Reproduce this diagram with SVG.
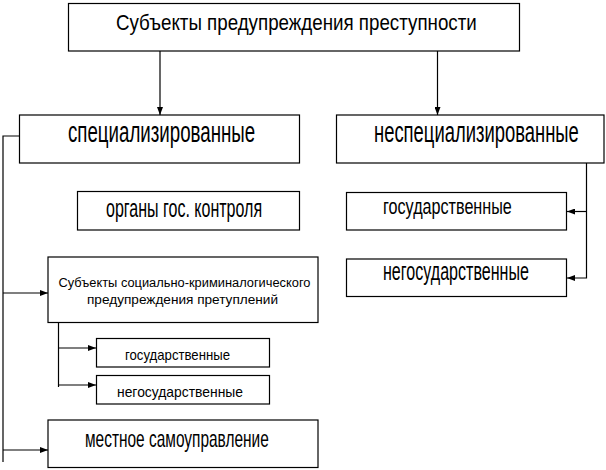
<svg xmlns="http://www.w3.org/2000/svg" width="606" height="470" viewBox="0 0 606 470">
<defs>
<style>
.box{fill:#fff;stroke:#000;stroke-width:1.2}
.ln{fill:none;stroke:#000;stroke-width:1.2}
text{font-family:"Liberation Sans",Arial,sans-serif;fill:#000}
</style>
<marker id="ah" viewBox="0 0 8 6" refX="8" refY="3" markerWidth="8" markerHeight="6" markerUnits="userSpaceOnUse" orient="auto">
<path d="M0,0 L8,3 L0,6 Z" fill="#000"/>
</marker>
</defs>
<rect width="606" height="470" fill="#fff"/>
<g id="connectors">
<line class="ln" x1="160" y1="51" x2="160" y2="115" marker-end="url(#ah)"/>
<line class="ln" x1="437.5" y1="51" x2="437.5" y2="115" marker-end="url(#ah)"/>
<polyline class="ln" points="19,136 3,136 3,462"/>
<line class="ln" x1="3" y1="293" x2="48" y2="293" marker-end="url(#ah)"/>
<line class="ln" x1="3" y1="450" x2="48" y2="450" marker-end="url(#ah)"/>
<line class="ln" x1="58.5" y1="322" x2="58.5" y2="387"/>
<line class="ln" x1="58.5" y1="348" x2="96" y2="348" marker-end="url(#ah)"/>
<line class="ln" x1="58.5" y1="385" x2="96" y2="385" marker-end="url(#ah)"/>
<polyline class="ln" points="586.5,163 586.5,278 567,278" marker-end="url(#ah)"/>
<line class="ln" x1="586.5" y1="211.5" x2="567" y2="211.5" marker-end="url(#ah)"/>
</g>
<g id="n-root">
<rect class="box" x="68.5" y="3.5" width="451" height="47.5"/>
<text transform="translate(116,29.5) scale(0.88,1)" font-size="22" textLength="410" lengthAdjust="spacingAndGlyphs">Субъекты предупреждения преступности</text>
</g>
<g id="n-spec">
<rect class="box" x="19.5" y="115" width="280" height="48"/>
<text transform="translate(68,141.5) scale(0.65,1)" font-size="29" textLength="288" lengthAdjust="spacingAndGlyphs">специализированные</text>
</g>
<g id="n-nespec">
<rect class="box" x="336.5" y="115" width="267.5" height="48"/>
<text transform="translate(374,141.5) scale(0.64,1)" font-size="29" textLength="320" lengthAdjust="spacingAndGlyphs">неспециализированные</text>
</g>
<g id="n-organy">
<rect class="box" x="77.5" y="191.5" width="222" height="38.5"/>
<text transform="translate(106,217) scale(0.7,1)" font-size="25" textLength="223" lengthAdjust="spacingAndGlyphs">органы гос. контроля</text>
</g>
<g id="n-soc">
<rect class="box" x="48" y="257" width="270" height="65.5"/>
<text x="58.5" y="287" font-size="12.5" textLength="252" lengthAdjust="spacingAndGlyphs">Субъекты социально-криминалогического</text>
<text x="87" y="303.5" font-size="12.5" textLength="191" lengthAdjust="spacingAndGlyphs">предупреждения претуплений</text>
</g>
<g id="n-soc-gov">
<rect class="box" x="96.5" y="338.5" width="173" height="28.5"/>
<text x="125" y="359.5" font-size="15" textLength="105" lengthAdjust="spacingAndGlyphs">государственные</text>
</g>
<g id="n-soc-negov">
<rect class="box" x="96.5" y="375.5" width="173" height="28.5"/>
<text x="117" y="396.5" font-size="15" textLength="126" lengthAdjust="spacingAndGlyphs">негосударственные</text>
</g>
<g id="n-mestnoe">
<rect class="box" x="48" y="420" width="270" height="47.5"/>
<text transform="translate(85,446.5) scale(0.75,1)" font-size="23" textLength="245" lengthAdjust="spacingAndGlyphs">местное самоуправление</text>
</g>
<g id="n-gov">
<rect class="box" x="346.5" y="192.5" width="220" height="37.5"/>
<text transform="translate(383,213.5) scale(0.7,1)" font-size="22" textLength="184" lengthAdjust="spacingAndGlyphs">государственные</text>
</g>
<g id="n-negov">
<rect class="box" x="346.5" y="259" width="220" height="37.5"/>
<text transform="translate(383,280) scale(0.64,1)" font-size="25" textLength="228" lengthAdjust="spacingAndGlyphs">негосударственные</text>
</g>
</svg>
